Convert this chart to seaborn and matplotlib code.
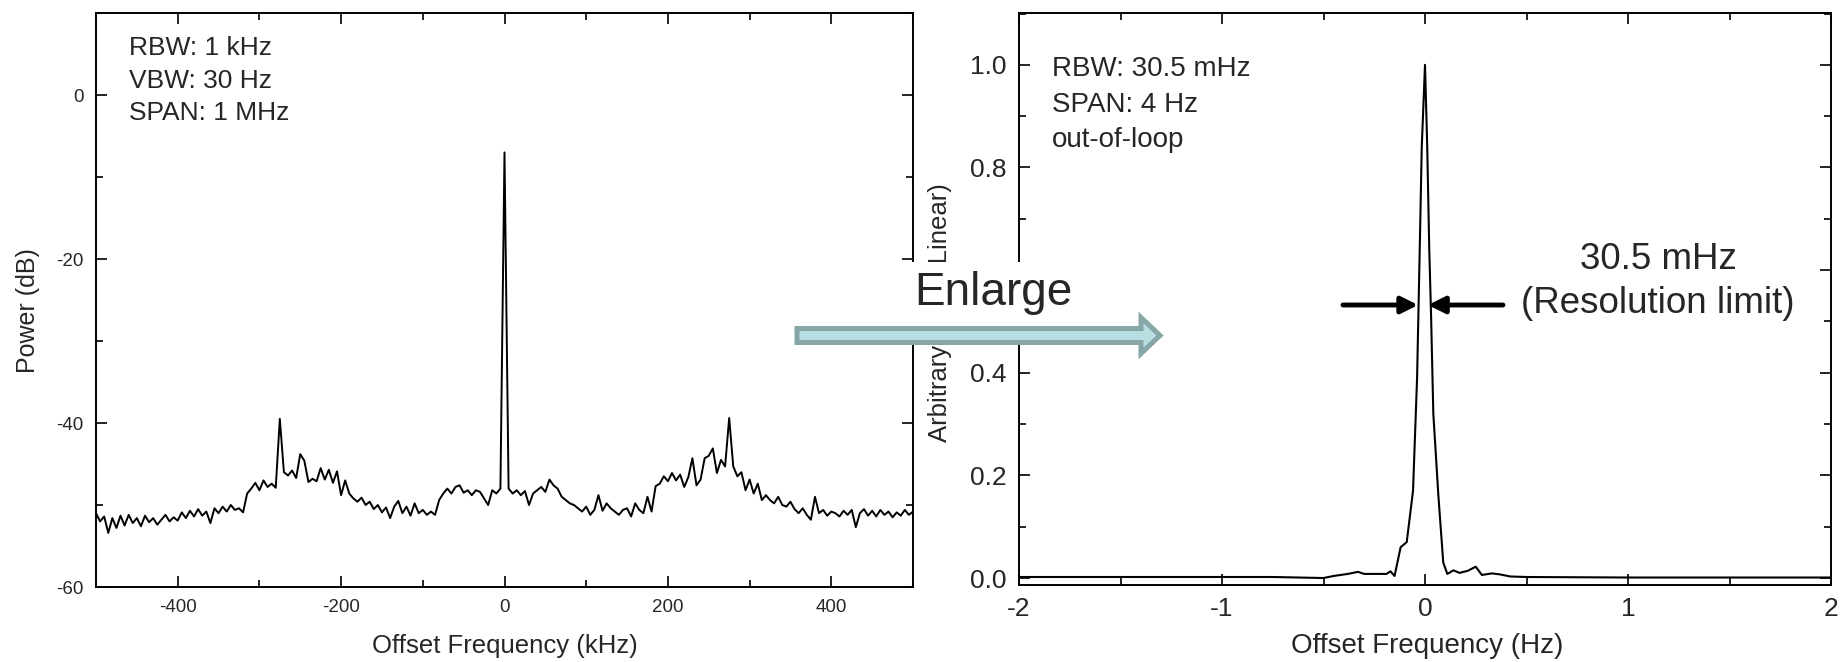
import numpy as np
import matplotlib
matplotlib.use("Agg")
import matplotlib.pyplot as plt
import seaborn as sns
from matplotlib.patches import Rectangle, FancyArrow
from matplotlib.ticker import MultipleLocator, FormatStrFormatter

# ---------------- data ----------------
offset_khz = np.arange(-500, 501, 5)
power_db = [
    -51.0, -52.0, -51.4, -53.4, -51.6, -52.8, -51.3, -52.5, -51.2, -52.2,
    -51.6, -52.6, -51.3, -52.1, -51.6, -52.4, -51.8, -51.2, -52.0, -51.5,
    -51.9, -50.9, -51.6, -50.7, -51.4, -50.5, -51.3, -50.8, -52.2, -50.4,
    -51.0, -50.2, -50.8, -50.0, -50.6, -50.4, -50.9, -48.6, -48.0, -47.3,
    -48.2, -47.0, -47.8, -47.4, -47.9, -39.5, -46.0, -46.4, -45.8, -46.7,
    -43.8, -44.6, -47.2, -46.8, -47.1, -45.5, -46.9, -45.7, -47.3, -45.9,
    -48.8, -47.0, -48.6, -49.2, -49.6, -49.1, -50.0, -49.6, -50.5, -50.0,
    -50.9, -50.3, -51.6, -50.2, -49.5, -51.0, -50.2, -51.3, -49.8, -51.0,
    -50.6, -51.2, -50.8, -51.2, -49.4, -48.6, -48.0, -48.6, -47.8, -47.6,
    -48.5, -48.2, -48.8, -48.2, -48.4, -49.2, -50.0, -48.2, -48.6, -48.0,
    -7.0, -48.0, -48.6, -48.2, -48.8, -48.3, -50.0, -48.6, -48.2, -47.8,
    -48.4, -46.9, -47.6, -48.0, -49.0, -49.4, -49.8, -50.0, -50.4, -50.8,
    -50.2, -51.2, -50.6, -48.8, -50.7, -49.8, -50.4, -50.8, -51.2, -50.6,
    -50.4, -51.4, -49.8, -50.6, -51.0, -49.0, -50.8, -47.7, -47.4, -46.5,
    -47.1, -46.1, -47.0, -46.3, -47.8, -46.6, -44.3, -47.6, -46.9, -44.3,
    -44.0, -43.1, -46.1, -44.5, -45.3, -39.4, -45.3, -46.5, -46.0, -48.2,
    -46.9, -48.6, -47.4, -49.4, -48.8, -49.4, -49.8, -49.0, -50.0, -50.2,
    -49.6, -50.5, -51.0, -50.4, -51.2, -51.8, -49.0, -51.0, -50.6, -51.3,
    -50.8, -51.0, -51.4, -50.7, -51.2, -50.6, -52.7, -51.0, -50.5, -51.3,
    -50.7, -51.4, -50.6, -51.2, -50.8, -51.5, -50.9, -51.3, -50.6, -51.2,
    -50.8,
]

offset_hz = [-2.0, -1.5, -1.0, -0.75, -0.5, -0.45, -0.38, -0.33, -0.30, -0.26,
             -0.19, -0.17, -0.15, -0.12, -0.09, -0.059, -0.039, -0.026, -0.016, 0.0,
             0.011, 0.021, 0.03, 0.041, 0.066, 0.09, 0.11, 0.14, 0.17, 0.21,
             0.25, 0.28, 0.33, 0.37, 0.42, 0.5, 1.0, 1.5, 2.0]
amplitude = [0.002, 0.002, 0.002, 0.002, 0.0, 0.004, 0.008, 0.012, 0.008, 0.008,
             0.008, 0.013, 0.004, 0.06, 0.07, 0.17, 0.39, 0.64, 0.84, 1.0,
             0.84, 0.64, 0.51, 0.32, 0.16, 0.03, 0.008, 0.015, 0.01, 0.014,
             0.022, 0.006, 0.009, 0.007, 0.003, 0.002, 0.001, 0.001, 0.001]

left_info = ["RBW: 1 kHz", "VBW: 30 Hz", "SPAN: 1 MHz"]
right_info = ["RBW: 30.5 mHz", "SPAN: 4 Hz", "out-of-loop"]
res_text = ["30.5 mHz", "(Resolution limit)"]

# ---------------- style ----------------
sns.set_theme(style="ticks")
plt.rcParams["font.family"] = ["Liberation Sans", "DejaVu Sans"]
plt.rcParams["axes.linewidth"] = 1.4
plt.rcParams["axes.edgecolor"] = "black"
plt.rcParams["axes.unicode_minus"] = False

W, H = 1841, 662
fig = plt.figure(figsize=(W / 100, H / 100), dpi=100, facecolor="white")

def fx(px):
    return px / W

def fy(py):
    return 1 - py / H

ax1 = fig.add_axes([fx(96), fy(587), 817 / W, 574 / H])
ax2 = fig.add_axes([fx(1019), fy(585), 812 / W, 572 / H])

sns.lineplot(x=offset_khz, y=power_db, ax=ax1, color="black", lw=1.4,
             sort=False, estimator=None)
sns.lineplot(x=offset_hz, y=amplitude, ax=ax2, color="black", lw=1.5,
             sort=False, estimator=None)

ax1.set_xlim(-500, 500)
ax1.set_ylim(-60, 10)
ax1.xaxis.set_major_locator(MultipleLocator(200))
ax1.xaxis.set_minor_locator(MultipleLocator(100))
ax1.yaxis.set_major_locator(MultipleLocator(20))
ax1.yaxis.set_minor_locator(MultipleLocator(10))

ax2.set_xlim(-2, 2)
ax2.set_ylim(-0.0136, 1.101)
ax2.xaxis.set_major_locator(MultipleLocator(1))
ax2.xaxis.set_minor_locator(MultipleLocator(0.5))
ax2.yaxis.set_major_locator(MultipleLocator(0.2))
ax2.yaxis.set_minor_locator(MultipleLocator(0.1))
ax2.yaxis.set_major_formatter(FormatStrFormatter("%.1f"))

for ax, lsize in ((ax1, 13.5), (ax2, 19)):
    ax.set_facecolor("white")
    for s in ax.spines.values():
        s.set_visible(True)
        s.set_color("black")
        s.set_linewidth(1.4)
    ax.tick_params(which="both", direction="in", top=True, right=True,
                   color="black", width=1.2)
    ax.tick_params(which="major", length=8, labelsize=lsize, pad=9)
    ax.tick_params(which="minor", length=5)

ax1.set_xlabel("Offset Frequency (kHz)", fontsize=18.5, va="center")
ax1.xaxis.set_label_coords(0.5, -0.103)
ax1.set_ylabel("Power (dB)", fontsize=18, va="center")
ax1.yaxis.set_label_coords(-0.083, 0.481)

ax2.set_xlabel("Offset Frequency (Hz)", fontsize=20, va="center")
ax2.xaxis.set_label_coords(0.5025, -0.107)
ax2.set_ylabel("Arbitrary Units (Linear)", fontsize=18.5, va="center")
ax2.yaxis.set_label_coords(-0.097, 0.4755)

# info texts
for txt, py in zip(left_info, [55, 88, 120]):
    fig.text(fx(129), fy(py), txt, fontsize=19, ha="left", va="baseline")
for txt, py in zip(right_info, [76, 112, 147]):
    fig.text(fx(1052), fy(py), txt, fontsize=20, ha="left", va="baseline")

# resolution arrows and text
for tip, tail in ((-0.034, -0.404), (0.015, 0.384)):
    ax2.annotate("", xy=(tip, 0.532), xytext=(tail, 0.532),
                 arrowprops=dict(arrowstyle="-|>", color="black", lw=3.5,
                                 mutation_scale=25, shrinkA=0, shrinkB=0))
for txt, py in zip(res_text, [269, 313]):
    fig.text(fx(1658), fy(py), txt, fontsize=26.5, ha="center", va="baseline")

# Enlarge box + arrow
fig.add_artist(Rectangle((fx(890), fy(328)), (1098 - 890) / W, (328 - 262) / H,
                         transform=fig.transFigure, fc="white", ec="none", zorder=2))
fig.add_artist(FancyArrow(fx(797), fy(335.5), (1160 - 797) / W, 0,
                          width=14 / H, head_width=36 / H, head_length=19 / W,
                          length_includes_head=True, transform=fig.transFigure,
                          fc="#b8dee1", ec="#87a6a6", lw=3.6, zorder=3))
fig.text(fx(993), fy(305), "Enlarge", fontsize=33, ha="center", va="baseline", zorder=4)

fig.savefig("out.png", dpi=100, facecolor="white")
